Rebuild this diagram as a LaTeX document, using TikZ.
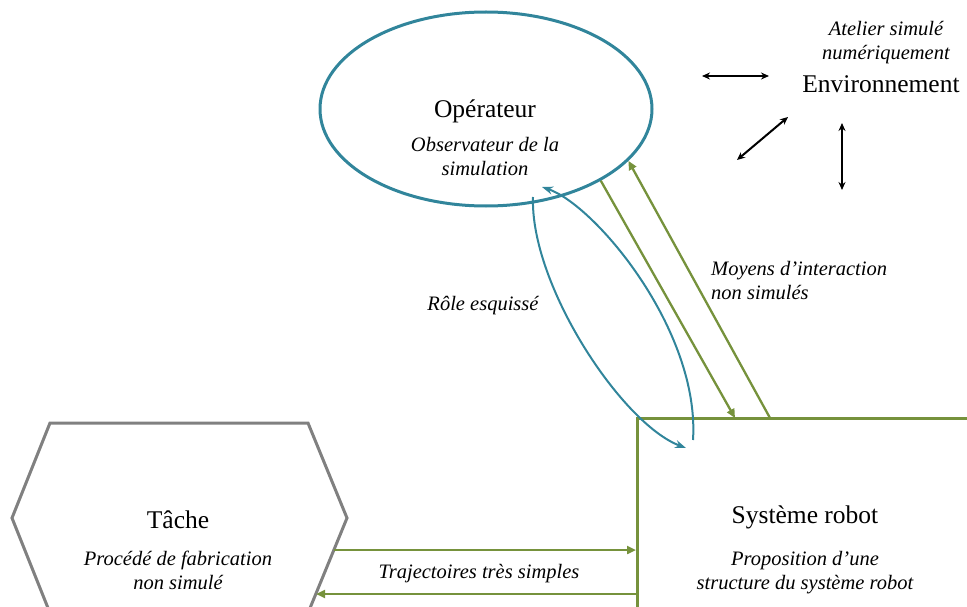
\documentclass[tikz,border=0pt]{standalone}
\usepackage{fontspec}
\setmainfont{Liberation Serif}
\usetikzlibrary{arrows.meta,shapes.geometric}
\definecolor{opblue}{RGB}{49,133,155}
\definecolor{robgreen}{RGB}{118,146,60}
\definecolor{tgray}{RGB}{128,128,128}

\begin{document}
\begin{tikzpicture}[x=1pt,y=-1pt,
    title/.style={font=\fontsize{25.5}{28}\selectfont, inner sep=0pt},
    sub/.style={font=\fontsize{20.5}{24}\selectfont\itshape, inner sep=0pt, align=center},
    link/.style={robgreen, line width=2.3pt, -{Triangle[length=9pt,width=8pt]}},
    role/.style={opblue, line width=2pt, -{Stealth[length=11pt,width=8pt]}},
    env/.style={line width=2pt, {Stealth[length=8pt,width=7pt]}-{Stealth[length=8pt,width=7pt]}}
]
\clip (0,0) rectangle (967,607);
% operateur
\node[ellipse, draw=opblue, line width=3pt, minimum width=332pt, minimum height=194pt] (op) at (486,109) {};
\node[title] (opT) at (485,111) {Opérateur};
\node[sub] (opS) at (485,157) {Observateur de la\\simulation};
% environnement
\node[title] (envT) at (881,84) {Environnement};
\node[sub] (envS) at (886,43) {Atelier simulé\\numériquement};
\coordinate (e1a) at (702,76);  \coordinate (e1b) at (769,76);
\coordinate (e2a) at (737,160); \coordinate (e2b) at (788,117);
\coordinate (e3a) at (842,123); \coordinate (e3b) at (842,190);
\draw[env] (e1a) -- (e1b);
\draw[env] (e2a) -- (e2b);
\draw[env] (e3a) -- (e3b);
% tache
\draw[tgray, line width=3pt] (50,423) -- (308,423) -- (347,518) -- (308,613)
    -- (50,613) -- (12,518) -- cycle;
\node[title] (taT) at (178,520) {Tâche};
\node[sub] (taS) at (178,570) {Procédé de fabrication\\non simulé};
% systeme robot
\coordinate (rob) at (637,418);
\draw[robgreen, line width=3pt] (637,607) -- (rob) -- (967,418);
\node[title] (roT) at (805,517) {Système robot};
\node[sub] (roS) at (805,573) {Proposition d’une\\structure du système robot};
% liaisons
\coordinate (rA) at (735,418);
\coordinate (rB) at (770,418);
\draw[link] (op.-32) -- (rA);
\draw[link] (rB) -- (op.-20);
\node[sub, align=left, anchor=west] (moy) at (711,281) {Moyens d’interaction\\non simulés};
\coordinate (tA) at (334,550); \coordinate (rC) at (636,550);
\coordinate (tB) at (316,594); \coordinate (rD) at (637,594);
\draw[link] (tA) -- (rC);
\draw[link] (rD) -- (tB);
\node[sub] (traj) at (479,574) {Trajectoires très simples};
% role
\coordinate (ro1) at (533,197); \coordinate (ro2) at (686,448);
\coordinate (ro3) at (693,440); \coordinate (ro4) at (542,187);
\draw[role] (ro1) .. controls (530,285) and (622,424) .. (ro2);
\draw[role] (ro3) .. controls (700,330) and (595,205) .. (ro4);
\node[sub] (role) at (483,306) {Rôle esquissé};
\end{tikzpicture}
\end{document}
